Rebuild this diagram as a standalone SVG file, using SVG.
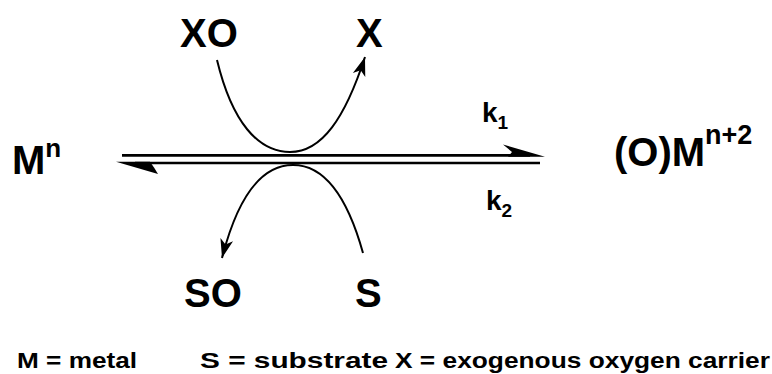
<svg xmlns="http://www.w3.org/2000/svg" width="772" height="374" viewBox="0 0 772 374">
<style>
.t{font-family:"Liberation Sans",Arial,sans-serif;font-weight:bold;fill:#000}
.big{font-size:40px}
.lg{font-size:22px}
.ln{stroke:#000;fill:none}
</style>
<defs>
<marker id="ah" markerUnits="userSpaceOnUse" markerWidth="22" markerHeight="16" viewBox="-20 -8 22 16" refX="0" refY="0" orient="auto">
<path d="M0,0 L-19,-6.5 L-14,0 L-19,6.5 Z" fill="#000"/>
</marker>
</defs>
<rect width="772" height="374" fill="#fff"/>
<g id="connectors">
<line class="ln" x1="122" y1="155.3" x2="530" y2="155.3" stroke-width="2.7"/>
<polygon points="503,144.5 545,156.7 508,156.7 512,152" fill="#000"/>
<line class="ln" x1="135" y1="163" x2="540" y2="163" stroke-width="2.7"/>
<polygon points="116,161.7 158,174 154,167.5 150,161.7" fill="#000"/>
<path class="ln" stroke-width="2" d="M217,60 C232,122 258,152 290,152 C322,152 345,118 365,57" marker-end="url(#ah)"/>
<path class="ln" stroke-width="2" d="M363,253 C346,192 322,165 293,165 C262,165 238,196 222,258" marker-end="url(#ah)"/>
</g>
<g id="node-Mn"><text class="t big" x="12" y="174">M<tspan font-size="26" dy="-17">n</tspan></text></g>
<g id="node-OMn2"><text class="t big" x="614" y="166">(O)M<tspan font-size="27" dy="-22">n+2</tspan></text></g>
<g id="node-XO"><text class="t big" x="180" y="47">XO</text></g>
<g id="node-X"><text class="t big" x="356" y="47">X</text></g>
<g id="node-SO"><text class="t big" x="184" y="307">SO</text></g>
<g id="node-S"><text class="t big" x="355" y="307">S</text></g>
<g id="label-k1"><text class="t" font-size="28" x="482" y="122">k<tspan font-size="19" dy="7">1</tspan></text></g>
<g id="label-k2"><text class="t" font-size="28" x="486" y="210">k<tspan font-size="19" dy="7">2</tspan></text></g>
<g id="legend">
<text class="t lg" x="17" y="368" textLength="120" lengthAdjust="spacingAndGlyphs">M = metal</text>
<text class="t lg" x="200" y="368" textLength="188" lengthAdjust="spacingAndGlyphs">S = substrate</text>
<text class="t lg" x="395" y="368" textLength="375" lengthAdjust="spacingAndGlyphs">X = exogenous oxygen carrier</text>
</g>
</svg>
